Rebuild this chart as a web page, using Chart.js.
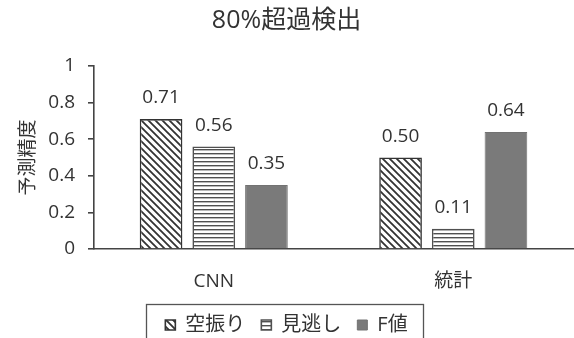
<!DOCTYPE html>
<html>
<head>
<meta charset="utf-8">
<script src="https://cdn.jsdelivr.net/npm/chart.js@4/dist/chart.umd.min.js"></script>
<style>
  html, body { margin: 0; padding: 0; background: #fff; }
  #wrap { width: 574px; height: 338px; }
</style>
</head>
<body>
<div id="wrap"><canvas id="c" width="574" height="338"></canvas></div>
<script>
// Detection scores for the two prediction methods
const categories = ['CNN', '統計'];
const seriesNames = ['空振り', '見逃し', 'F値'];
const falseAlarm = [0.71, 0.50];
const missed = [0.56, 0.11];
const fScore = [0.35, 0.64];
const yTicks = [0, 0.2, 0.4, 0.6, 0.8, 1];
const titleText = '80%超過検出';
const yTitle = '予測精度';

const FONT = "'Open Sans','Noto Sans CJK JP',sans-serif";
const TEXT = '#333333';

// Diagonal hatch (top-left to bottom-right) on white
function diagonalPattern() {
  const s = 7;
  const c = document.createElement('canvas');
  c.width = s; c.height = s;
  const g = c.getContext('2d');
  g.fillStyle = '#fff';
  g.fillRect(0, 0, s, s);
  g.strokeStyle = '#333';
  g.lineWidth = 1.8;
  g.beginPath();
  for (const k of [-s, 0, s]) {
    g.moveTo(k - 1, -1);
    g.lineTo(k + s + 1, s + 1);
  }
  g.stroke();
  return g.createPattern(c, 'repeat');
}

// Horizontal stripes on white
function stripePattern() {
  const s = 4;
  const c = document.createElement('canvas');
  c.width = s; c.height = s;
  const g = c.getContext('2d');
  g.fillStyle = '#fff';
  g.fillRect(0, 0, s, s);
  g.fillStyle = '#505050';
  g.fillRect(0, 1, s, 1.4);
  return g.createPattern(c, 'repeat');
}

// Value printed above every bar
const valueLabels = {
  id: 'valueLabels',
  afterDatasetsDraw(chart) {
    const ctx = chart.ctx;
    ctx.save();
    ctx.font = '19px ' + FONT;
    ctx.fillStyle = TEXT;
    ctx.textAlign = 'center';
    ctx.textBaseline = 'middle';
    chart.data.datasets.forEach((ds, i) => {
      chart.getDatasetMeta(i).data.forEach((bar, j) => {
        ctx.fillText(ds.data[j].toFixed(2), bar.x, bar.y - 21);
      });
    });
    ctx.restore();
  }
};

// Frame around the legend items
const legendFrame = {
  id: 'legendFrame',
  afterDraw(chart) {
    const boxes = chart.legend && chart.legend.legendHitBoxes;
    if (!boxes || !boxes.length) return;
    const left = Math.min(...boxes.map(b => b.left)) - 19;
    const right = Math.max(...boxes.map(b => b.left + b.width)) + 16;
    const top = boxes[0].top + boxes[0].height / 2 - 21;
    const ctx = chart.ctx;
    ctx.save();
    ctx.strokeStyle = '#555';
    ctx.lineWidth = 1.3;
    ctx.strokeRect(Math.round(left) + 0.5, Math.round(top) + 0.5, Math.round(right - left), 70);
    ctx.restore();
  }
};

new Chart(document.getElementById('c'), {
  type: 'bar',
  data: {
    labels: categories,
    datasets: [
      { label: seriesNames[0], data: falseAlarm, backgroundColor: diagonalPattern(), borderColor: '#333', borderWidth: 1.6 },
      { label: seriesNames[1], data: missed, backgroundColor: stripePattern(), borderColor: '#505050', borderWidth: 1.6 },
      { label: seriesNames[2], data: fScore, backgroundColor: '#7a7a7a', borderColor: '#727272', borderWidth: 1 }
    ]
  },
  options: {
    responsive: false,
    animation: false,
    devicePixelRatio: 1,
    barPercentage: 0.81,
    categoryPercentage: 0.66,
    layout: { padding: { left: 0, right: 1, top: 0, bottom: -7 } },
    plugins: {
      title: {
        display: true,
        text: titleText,
        color: TEXT,
        font: { family: FONT, size: 25, weight: 'normal' },
        padding: { top: 6, bottom: 30 }
      },
      legend: {
        position: 'bottom',
        labels: {
          color: TEXT,
          font: { family: FONT, size: 20 },
          boxWidth: 10,
          boxHeight: 10,
          padding: 16
        }
      },
      tooltip: { enabled: false }
    },
    scales: {
      x: {
        grid: { display: false, drawTicks: false },
        border: { display: true, color: '#444', width: 1.6 },
        ticks: { color: TEXT, font: { family: FONT, size: 19 }, padding: 21 },
        afterFit(scale) { scale.height = 50; }
      },
      y: {
        min: 0,
        max: 1,
        afterBuildTicks(scale) { scale.ticks = yTicks.map(v => ({ value: v })); },
        grid: { display: true, drawOnChartArea: false, drawTicks: true, tickLength: 6, color: '#444', lineWidth: 1.6 },
        border: { display: true, color: '#444', width: 1.6 },
        ticks: { color: TEXT, font: { family: FONT, size: 19 }, padding: 13, callback: v => String(v) },
        title: { display: true, text: yTitle, color: TEXT, font: { family: FONT, size: 19 }, padding: { top: 17, bottom: 0 } },
        afterFit(scale) { scale.width = 94; }
      }
    }
  },
  plugins: [valueLabels, legendFrame]
});
</script>
</body>
</html>
